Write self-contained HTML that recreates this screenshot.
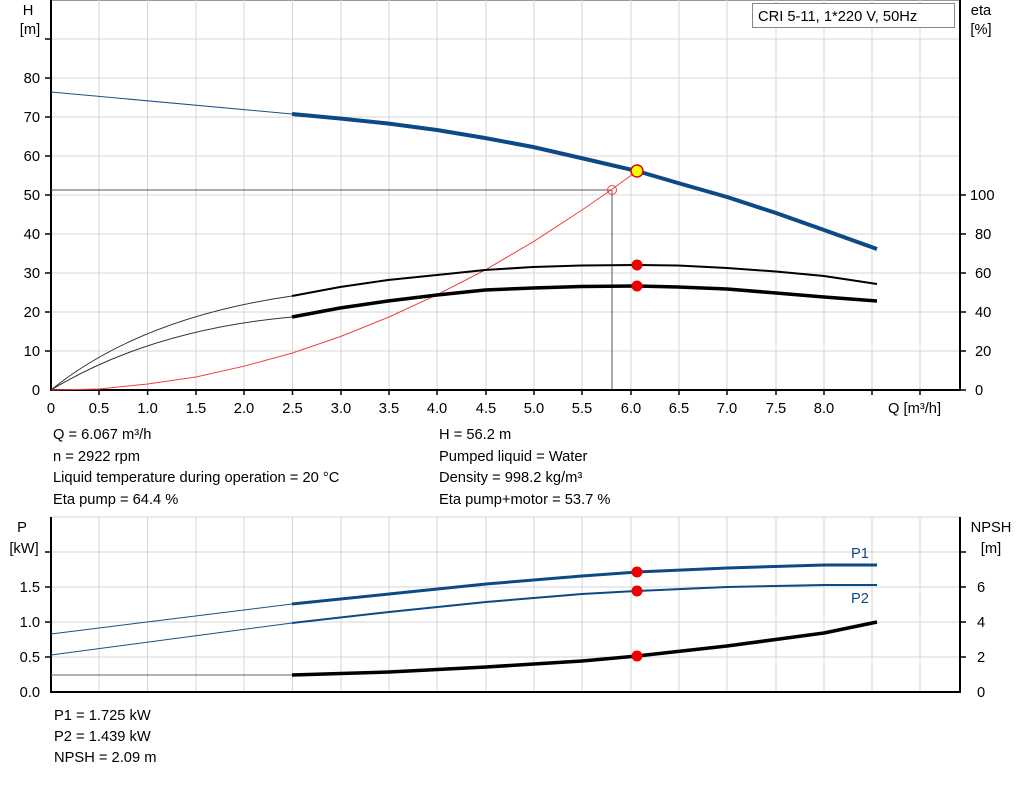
<!DOCTYPE html>
<html><head><style>
body{margin:0;background:#fff;}
svg text{font-family:"Liberation Sans",Arial,sans-serif;font-size:14.7px;fill:#000;}
</style></head><body>
<svg width="1024" height="781" viewBox="0 0 1024 781" xmlns="http://www.w3.org/2000/svg">
<g stroke="#d4d4d4" stroke-width="1">
<line x1="51" y1="0.5" x2="960" y2="0.5" stroke="#999"/>
<line x1="51" y1="39" x2="960" y2="39"/><line x1="51" y1="78" x2="960" y2="78"/><line x1="51" y1="117" x2="960" y2="117"/><line x1="51" y1="156" x2="960" y2="156"/><line x1="51" y1="195" x2="960" y2="195"/><line x1="51" y1="234" x2="960" y2="234"/><line x1="51" y1="273" x2="960" y2="273"/><line x1="51" y1="312" x2="960" y2="312"/><line x1="51" y1="351" x2="960" y2="351"/>
<line x1="99" y1="0" x2="99" y2="390"/><line x1="147.6" y1="0" x2="147.6" y2="390"/><line x1="196" y1="0" x2="196" y2="390"/><line x1="244" y1="0" x2="244" y2="390"/><line x1="292.5" y1="0" x2="292.5" y2="390"/><line x1="341" y1="0" x2="341" y2="390"/><line x1="389" y1="0" x2="389" y2="390"/><line x1="437" y1="0" x2="437" y2="390"/><line x1="486" y1="0" x2="486" y2="390"/><line x1="534" y1="0" x2="534" y2="390"/><line x1="582" y1="0" x2="582" y2="390"/><line x1="631" y1="0" x2="631" y2="390"/><line x1="679" y1="0" x2="679" y2="390"/><line x1="727" y1="0" x2="727" y2="390"/><line x1="776" y1="0" x2="776" y2="390"/><line x1="824" y1="0" x2="824" y2="390"/><line x1="872" y1="0" x2="872" y2="390"/><line x1="920" y1="0" x2="920" y2="390"/>
<line x1="51" y1="517" x2="960" y2="517"/><line x1="51" y1="552" x2="960" y2="552"/><line x1="51" y1="587" x2="960" y2="587"/><line x1="51" y1="622" x2="960" y2="622"/><line x1="51" y1="657" x2="960" y2="657"/>
<line x1="99" y1="517" x2="99" y2="692"/><line x1="147.6" y1="517" x2="147.6" y2="692"/><line x1="196" y1="517" x2="196" y2="692"/><line x1="244" y1="517" x2="244" y2="692"/><line x1="292.5" y1="517" x2="292.5" y2="692"/><line x1="341" y1="517" x2="341" y2="692"/><line x1="389" y1="517" x2="389" y2="692"/><line x1="437" y1="517" x2="437" y2="692"/><line x1="486" y1="517" x2="486" y2="692"/><line x1="534" y1="517" x2="534" y2="692"/><line x1="582" y1="517" x2="582" y2="692"/><line x1="631" y1="517" x2="631" y2="692"/><line x1="679" y1="517" x2="679" y2="692"/><line x1="727" y1="517" x2="727" y2="692"/><line x1="776" y1="517" x2="776" y2="692"/><line x1="824" y1="517" x2="824" y2="692"/><line x1="872" y1="517" x2="872" y2="692"/><line x1="920" y1="517" x2="920" y2="692"/>
</g>
<g stroke="#000" stroke-width="2">
<line x1="51" y1="0" x2="51" y2="391"/><line x1="960" y1="0" x2="960" y2="391"/><line x1="50" y1="390" x2="961" y2="390"/>
<line x1="51" y1="517" x2="51" y2="693"/><line x1="960" y1="517" x2="960" y2="693"/><line x1="50" y1="692" x2="961" y2="692"/>
</g>
<g stroke="#000" stroke-width="1.5">
<line x1="45" y1="78" x2="51" y2="78"/><line x1="45" y1="117" x2="51" y2="117"/><line x1="45" y1="156" x2="51" y2="156"/><line x1="45" y1="195" x2="51" y2="195"/><line x1="45" y1="234" x2="51" y2="234"/><line x1="45" y1="273" x2="51" y2="273"/><line x1="45" y1="312" x2="51" y2="312"/><line x1="45" y1="351" x2="51" y2="351"/><line x1="45" y1="39" x2="51" y2="39"/>
<line x1="960" y1="195" x2="966" y2="195"/><line x1="960" y1="234" x2="966" y2="234"/><line x1="960" y1="273" x2="966" y2="273"/><line x1="960" y1="312" x2="966" y2="312"/><line x1="960" y1="351" x2="966" y2="351"/><line x1="960" y1="390" x2="966" y2="390"/>
<line x1="45" y1="552" x2="51" y2="552"/><line x1="45" y1="587" x2="51" y2="587"/><line x1="45" y1="622" x2="51" y2="622"/><line x1="45" y1="657" x2="51" y2="657"/>
<line x1="960" y1="552" x2="966" y2="552"/><line x1="960" y1="587" x2="966" y2="587"/><line x1="960" y1="622" x2="966" y2="622"/><line x1="960" y1="657" x2="966" y2="657"/>
<line x1="99" y1="390" x2="99" y2="395"/><line x1="147.6" y1="390" x2="147.6" y2="395"/><line x1="196" y1="390" x2="196" y2="395"/><line x1="244" y1="390" x2="244" y2="395"/><line x1="292.5" y1="390" x2="292.5" y2="395"/><line x1="341" y1="390" x2="341" y2="395"/><line x1="389" y1="390" x2="389" y2="395"/><line x1="437" y1="390" x2="437" y2="395"/><line x1="486" y1="390" x2="486" y2="395"/><line x1="534" y1="390" x2="534" y2="395"/><line x1="582" y1="390" x2="582" y2="395"/><line x1="631" y1="390" x2="631" y2="395"/><line x1="679" y1="390" x2="679" y2="395"/><line x1="727" y1="390" x2="727" y2="395"/><line x1="776" y1="390" x2="776" y2="395"/><line x1="824" y1="390" x2="824" y2="395"/><line x1="872" y1="390" x2="872" y2="395"/><line x1="920" y1="390" x2="920" y2="395"/>
</g>
<g text-anchor="end">
<text x="40" y="83">80</text><text x="40" y="122">70</text><text x="40" y="161">60</text><text x="40" y="200">50</text><text x="40" y="239">40</text><text x="40" y="278">30</text><text x="40" y="317">20</text><text x="40" y="356">10</text><text x="40" y="395">0</text>
<text x="40" y="592">1.5</text><text x="40" y="627">1.0</text><text x="40" y="662">0.5</text><text x="40" y="697">0.0</text>
</g>
<text x="28" y="15" text-anchor="middle">H</text><text x="30" y="34" text-anchor="middle">[m]</text>
<text x="981" y="15" text-anchor="middle">eta</text><text x="981" y="34" text-anchor="middle">[%]</text>
<text x="22" y="532" text-anchor="middle">P</text><text x="24" y="553" text-anchor="middle">[kW]</text>
<text x="991" y="532" text-anchor="middle">NPSH</text><text x="991" y="553" text-anchor="middle">[m]</text>
<g>
<text x="970" y="200">100</text><text x="975" y="239">80</text><text x="975" y="278">60</text><text x="975" y="317">40</text><text x="975" y="356">20</text><text x="975" y="395">0</text>
<text x="977" y="592">6</text><text x="977" y="627">4</text><text x="977" y="662">2</text><text x="977" y="697">0</text>
</g>
<g text-anchor="middle">
<text x="51" y="413">0</text><text x="99" y="413">0.5</text><text x="147.6" y="413">1.0</text><text x="196" y="413">1.5</text><text x="244" y="413">2.0</text><text x="292.5" y="413">2.5</text><text x="341" y="413">3.0</text><text x="389" y="413">3.5</text><text x="437" y="413">4.0</text><text x="486" y="413">4.5</text><text x="534" y="413">5.0</text><text x="582" y="413">5.5</text><text x="631" y="413">6.0</text><text x="679" y="413">6.5</text><text x="727" y="413">7.0</text><text x="776" y="413">7.5</text><text x="824" y="413">8.0</text>
</g>
<text x="888" y="413">Q [m³/h]</text>
<rect x="752.5" y="3.5" width="202" height="24" fill="#fff" stroke="#888"/>
<text x="758" y="21">CRI 5-11, 1*220 V, 50Hz</text>
<text x="53" y="439">Q = 6.067 m³/h</text><text x="53" y="461">n = 2922 rpm</text><text x="53" y="482">Liquid temperature during operation = 20 °C</text><text x="53" y="504">Eta pump = 64.4 %</text>
<text x="439" y="439">H = 56.2 m</text><text x="439" y="461">Pumped liquid = Water</text><text x="439" y="482">Density = 998.2 kg/m³</text><text x="439" y="504">Eta pump+motor = 53.7 %</text>
<text x="54" y="720">P1 = 1.725 kW</text><text x="54" y="741">P2 = 1.439 kW</text><text x="54" y="762">NPSH = 2.09 m</text>
<polyline points="612,190 51,190" fill="none" stroke="#555" stroke-width="1"/>
<polyline points="612,190 612,390" fill="none" stroke="#555" stroke-width="1"/>
<polyline points="51,390 99,389 147.6,384 196,377 244,366.2 292.5,353 341,336.4 389,317 437,294.8 486,269.5 534,241.3 582,210 611,190 637,171" fill="none" stroke="#f04040" stroke-width="1"/>
<line x1="51" y1="92" x2="292" y2="114" stroke="#1a4f85" stroke-width="1"/>
<polyline points="292,114 340,118.5 388,123.5 437,130 485,138 533,147 581,158 637,171 678,183 727,197 776,213 824,230 877,249" fill="none" stroke="#0b4a85" stroke-width="4" stroke-linejoin="round"/>
<path d="M51,390 Q150,330 292,317" fill="none" stroke="#333" stroke-width="1"/>
<path d="M51,390 Q140,318 292,296" fill="none" stroke="#333" stroke-width="1"/>
<polyline points="292,317 340,308 388,301 437,295 485,290 533,288 581,286.5 637,286 678,287 727,289 776,293 824,297 877,301" fill="none" stroke="#000" stroke-width="3.5" stroke-linejoin="round"/>
<polyline points="292,296 340,287 388,280 437,275 485,270 533,267 581,265.5 637,265 678,265.5 727,268 776,271.5 824,276 877,284" fill="none" stroke="#000" stroke-width="2" stroke-linejoin="round"/>
<circle cx="612" cy="190" r="4.5" fill="none" stroke="#f04040" stroke-width="1"/>
<circle cx="637" cy="171" r="6" fill="#ffff00" stroke="#e00000" stroke-width="1.5"/>
<circle cx="637" cy="265" r="5.5" fill="#ee0000"/>
<circle cx="637" cy="286" r="5.5" fill="#ee0000"/>
<line x1="51" y1="634" x2="292" y2="604" stroke="#1a4f85" stroke-width="1"/>
<polyline points="292,604 389,594 486,584 582,576 637,572 727,568 824,565 877,565" fill="none" stroke="#0b4a85" stroke-width="3" stroke-linejoin="round"/>
<line x1="51" y1="655" x2="292" y2="623" stroke="#1a4f85" stroke-width="1"/>
<polyline points="292,623 389,612 486,602 582,594 637,591 727,587 824,585 877,585" fill="none" stroke="#0b4a85" stroke-width="2" stroke-linejoin="round"/>
<line x1="51" y1="675" x2="292" y2="675" stroke="#666" stroke-width="1"/>
<polyline points="292,675 389,672 486,667 582,661 637,656 727,646 824,633 877,622" fill="none" stroke="#000" stroke-width="3.5" stroke-linejoin="round"/>
<circle cx="637" cy="572" r="5.5" fill="#ee0000"/>
<circle cx="637" cy="591" r="5.5" fill="#ee0000"/>
<circle cx="637" cy="656" r="5.5" fill="#ee0000"/>
<text x="851" y="558" style="fill:#0b4a85">P1</text>
<text x="851" y="603" style="fill:#0b4a85">P2</text>
</svg>
</body></html>
